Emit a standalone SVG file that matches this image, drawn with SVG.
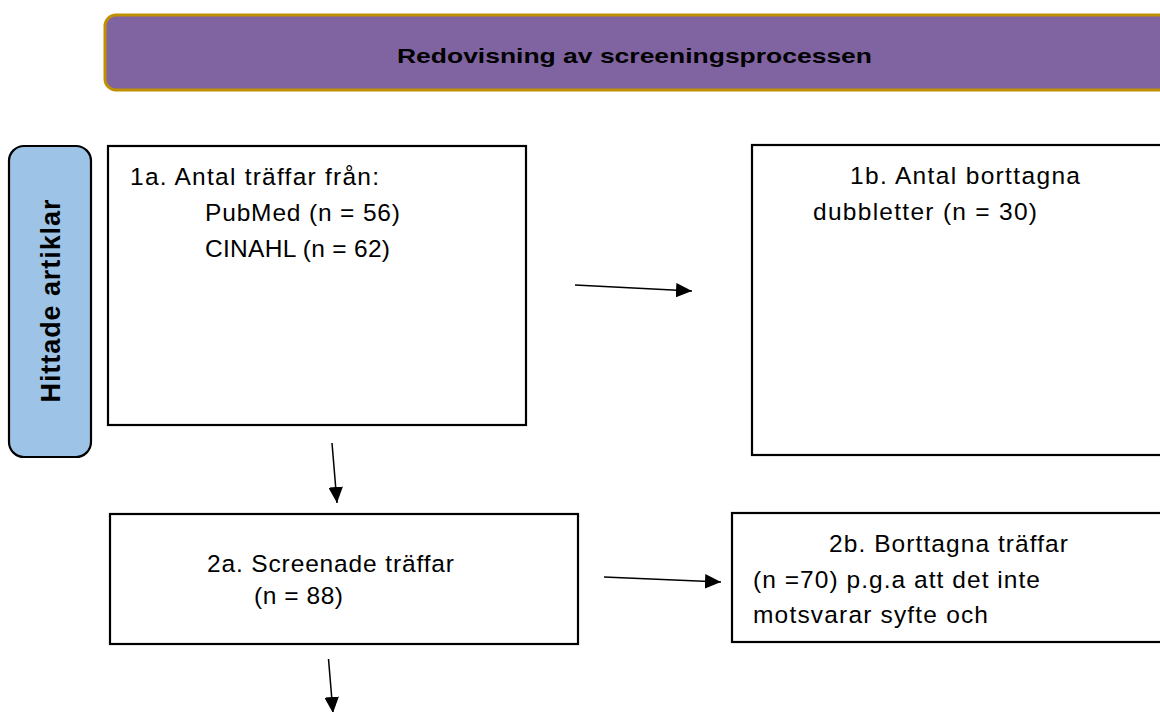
<svg xmlns="http://www.w3.org/2000/svg" width="1160" height="712" viewBox="0 0 1160 712">
<style>
.box{fill:#fff;stroke:#000;stroke-width:2.2}
.t{font-family:"Liberation Sans",Arial,sans-serif;font-size:24.5px;fill:#000}
.b{font-family:"Liberation Sans",Arial,sans-serif;font-weight:bold;fill:#000}
.c{stroke:#000;stroke-width:1.5;fill:none;marker-end:url(#ah)}
</style>
<defs>
<marker id="ah" viewBox="0 0 10 10" refX="10" refY="5" markerWidth="16" markerHeight="14.5" markerUnits="userSpaceOnUse" orient="auto" preserveAspectRatio="none">
<path d="M0,0 L10,5 L0,10 z" fill="#000"/>
</marker>
</defs>
<rect width="1160" height="712" fill="#fff"/>
<g id="header">
<rect x="105" y="15" width="1080" height="75" rx="11" fill="#8064A2" stroke="#BF9000" stroke-width="3"/>
<text class="b" x="397" y="63" font-size="21" textLength="475" lengthAdjust="spacingAndGlyphs">Redovisning av screeningsprocessen</text>
</g>
<g id="side">
<rect x="9" y="146" width="82" height="311" rx="15" fill="#9DC3E6" stroke="#000" stroke-width="2.2"/>
<text class="b" transform="translate(60,301) rotate(-90)" font-size="27" text-anchor="middle" textLength="203">Hittade artiklar</text>
</g>
<g id="n1a">
<rect class="box" x="108" y="146" width="418" height="279"/>
<text class="t" x="130" y="185" textLength="249">1a. Antal träffar från:</text>
<text class="t" x="205" y="221" textLength="195">PubMed (n = 56)</text>
<text class="t" x="205" y="257" textLength="185">CINAHL (n = 62)</text>
</g>
<g id="n1b">
<rect class="box" x="752" y="145" width="440" height="310"/>
<text class="t" x="850" y="184" textLength="230">1b. Antal borttagna</text>
<text class="t" x="813" y="220" textLength="224">dubbletter (n = 30)</text>
</g>
<g id="n2a">
<rect class="box" x="110" y="514" width="468" height="130"/>
<text class="t" x="207" y="572" textLength="247">2a. Screenade träffar</text>
<text class="t" x="254" y="604" textLength="89">(n = 88)</text>
</g>
<g id="n2b">
<rect class="box" x="732" y="513" width="460" height="129"/>
<text class="t" x="829" y="552" textLength="239">2b. Borttagna träffar</text>
<text class="t" x="753" y="588" textLength="287">(n =70) p.g.a att det inte</text>
<text class="t" x="753" y="623" textLength="235">motsvarar syfte och</text>
</g>
<g id="connectors">
<line class="c" x1="575" y1="285" x2="692" y2="291"/>
<line class="c" x1="332" y1="443" x2="337" y2="503"/>
<line class="c" x1="604" y1="577" x2="721" y2="582"/>
<line class="c" x1="328.5" y1="659" x2="333" y2="713"/>
</g>
</svg>
